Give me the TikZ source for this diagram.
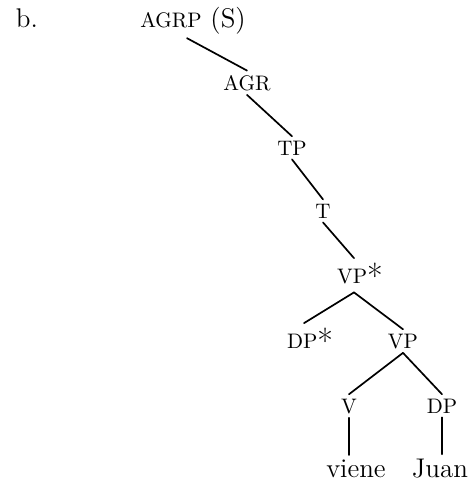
\documentclass[tikz,border=0pt]{standalone}
\newcommand{\syncat}[1]{{\fontsize{10.5}{12}\selectfont #1}}
\newcommand{\starmark}{\raisebox{-2.5pt}{\fontsize{17}{17}\selectfont *}}
\begin{document}
\begin{tikzpicture}[x=0.5pt,y=-0.5pt, line join=round, line cap=round,
    font=\fontsize{13.5}{16}\selectfont,
    lbl/.style={anchor=base, inner sep=2pt},
    br/.style={line width=0.85pt}]
	\useasboundingbox (0,0) rectangle (467,483);
	\node[lbl] (ex) at (27,27) {b.};
	\node[lbl] (agrp) at (193,27) {\syncat{AGRP} (S)};
	\node[lbl] (agr) at (247,90) {\syncat{AGR}};
	\node[lbl] (tp) at (292,155) {\syncat{TP}};
	\node[lbl] (t) at (323,218) {\syncat{T}};
	\node[lbl] (vps) at (360,283) {\syncat{VP}\starmark};
	\node[lbl] (dps) at (310,348) {\syncat{DP}\starmark};
	\node[lbl] (vp) at (403,348) {\syncat{VP}};
	\node[lbl] (v) at (349,413) {\syncat{V}};
	\node[lbl] (dp) at (442,413) {\syncat{DP}};
	\node[lbl] (viene) at (356,477) {viene};
	\node[lbl] (juan) at (440,477) {Juan};
%	branches
	\draw[br] ([xshift=-3pt]agrp.south) -- (agr.north);
	\draw[br] (agr.south) -- (tp.north);
	\draw[br] (tp.south) -- (t.north);
	\draw[br] (t.south) -- ([xshift=-3pt]vps.north);
	\draw[br] ([xshift=-3pt]vps.south) -- ([xshift=-3pt]dps.north);
	\draw[br] ([xshift=-3pt]vps.south) -- (vp.north);
	\draw[br] (vp.south) -- (v.north);
	\draw[br] (vp.south) -- (dp.north);
	\draw[br] (v.south) -- (v.south |- viene.north);
	\draw[br] (dp.south) -- (dp.south |- juan.north);
\end{tikzpicture}
\end{document}
